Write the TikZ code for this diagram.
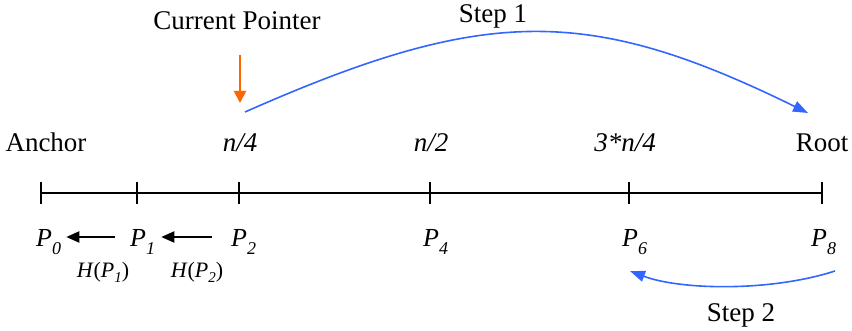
\documentclass[tikz,border=0pt]{standalone}
\usepackage{fontspec}
\setmainfont{LiberationSerif}[Extension=.ttf, UprightFont=*-Regular, ItalicFont=*-Italic, BoldFont=*-Bold, BoldItalicFont=*-BoldItalic]
\usetikzlibrary{arrows.meta}
\definecolor{stepblue}{RGB}{51,102,255}
\definecolor{ptrorange}{RGB}{255,102,0}
\newcommand{\Psub}[1]{\textit{P}\raisebox{-8pt}{\fontsize{18}{18}\selectfont\textit{#1}}}
\newcommand{\Hsub}[1]{\textit{H}(\textit{P}\raisebox{-5pt}{\fontsize{15}{15}\selectfont\textit{#1}})}
\begin{document}
\begin{tikzpicture}[x=1pt,y=-1pt,
  lbl/.style={inner sep=0pt, font=\fontsize{27}{30}\selectfont, anchor=base},
  plbl/.style={inner sep=0pt, font=\fontsize{26}{30}\selectfont, anchor=base west},
  hlbl/.style={inner sep=0pt, font=\fontsize{22}{26}\selectfont, anchor=base},
  axisline/.style={line width=1.3pt},
  harrow/.style={line width=2pt, -{Triangle[length=13pt,width=11pt]}},
  bluearrow/.style={draw=stepblue, line width=1.6pt, -{Triangle[length=15pt,width=11pt]}},
  orangearrow/.style={draw=ptrorange, line width=2pt, -{Triangle[length=12pt,width=12pt]}}
]
\useasboundingbox (0,0) rectangle (852,331);
% axis
\coordinate (t0) at (41,193);
\coordinate (t1) at (137,193);
\coordinate (t2) at (239,193);
\coordinate (t4) at (430,193);
\coordinate (t6) at (629,193);
\coordinate (t8) at (822,193);
\draw[axisline] (t0) -- (t8);
\foreach \t in {t0,t1,t2,t4,t6,t8}
  \draw[axisline] (\t) ++(0,-11) -- ++(0,22);
% top labels
\node[lbl] (anchor) at (46,152) {Anchor};
\node[lbl] (n4) at (240,152) {\textit{n/4}};
\node[lbl] (n2) at (431,152) {\textit{n/2}};
\node[lbl] (n34) at (625,152) {\textit{3*n/4}};
\node[lbl] (root) at (822,152) {Root};
% P labels
\node[plbl] (P0) at (36,247) {\Psub{0}};
\node[plbl] (P1) at (130,247) {\Psub{1}};
\node[plbl] (P2) at (231,247) {\Psub{2}};
\node[plbl] (P4) at (423,247) {\Psub{4}};
\node[plbl] (P6) at (622,247) {\Psub{6}};
\node[plbl] (P8) at (811,247) {\Psub{8}};
\draw[harrow] ([shift={(-15,-10)}]P1.base west) -- ([shift={(5,-10)}]P0.base east);
\draw[harrow] ([shift={(-19,-10)}]P2.base west) -- ([shift={(6,-10)}]P1.base east);
\node[hlbl] (h1) at (103,278) {\Hsub{1}};
\node[hlbl] (h2) at (197,278) {\Hsub{2}};
% current pointer
\node[lbl] (cp) at (237,30) {Current Pointer};
\coordinate (ptrTop) at (240,55);
\coordinate (ptrTip) at (240,103);
\draw[orangearrow] (ptrTop) -- (ptrTip);
% step 1
\node[lbl] (step1) at (493,23) {Step 1};
\coordinate (s1a) at (245,112);
\coordinate (s1b) at (808,113);
\draw[bluearrow] (s1a) .. controls (485,6) and (588,5) .. (s1b);
% step 2
\node[lbl] (step2) at (741,321) {Step 2};
\coordinate (s2a) at (835,271);
\coordinate (s2b) at (630,271);
\draw[bluearrow] (s2a) .. controls (770,292) and (680,290) .. (s2b);
\end{tikzpicture}
\end{document}
